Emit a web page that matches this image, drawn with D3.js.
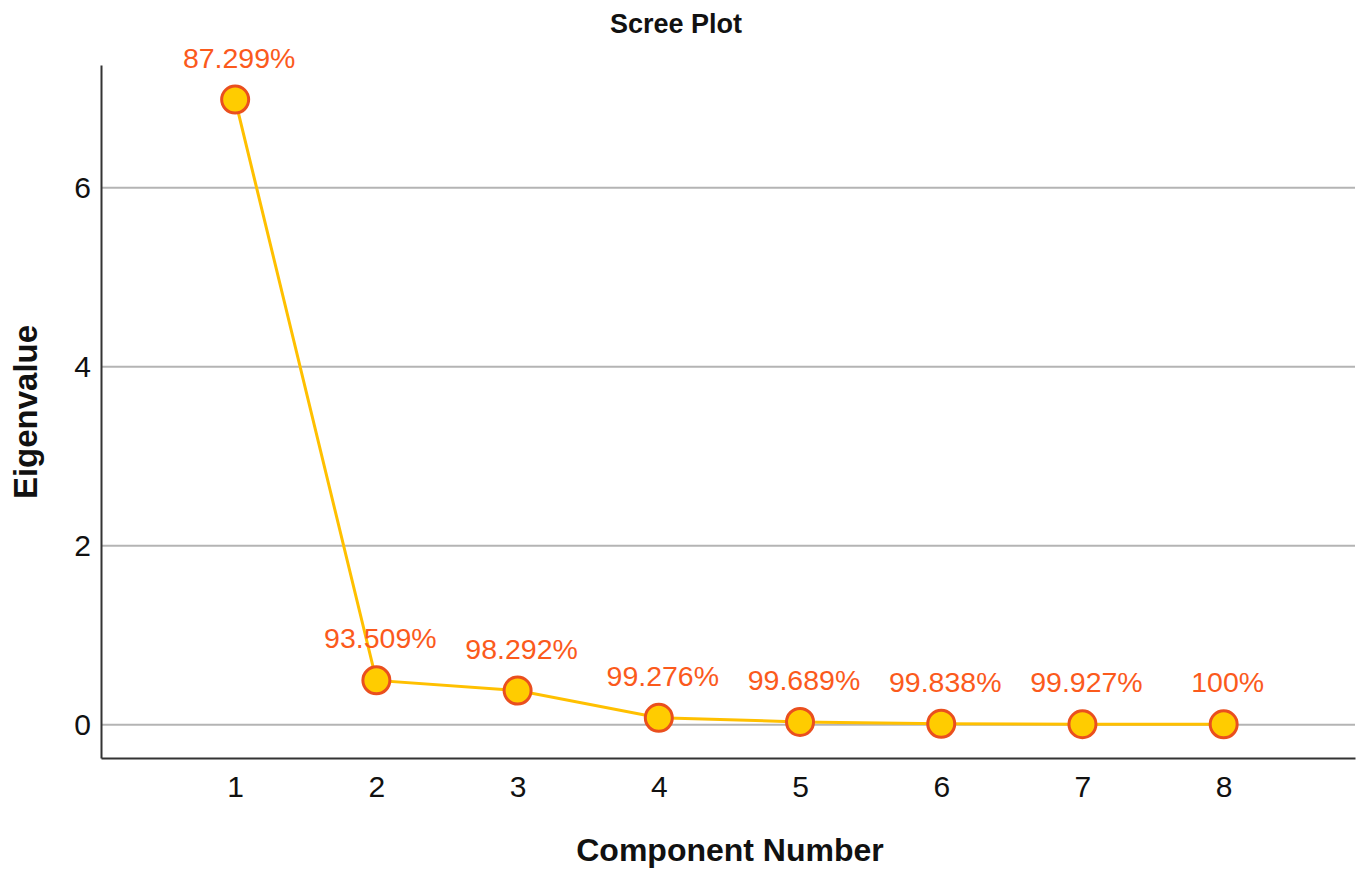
<!DOCTYPE html>
<html>
<head>
<meta charset="utf-8">
<script src="https://cdn.jsdelivr.net/npm/d3@7"></script>
<style>
  html, body { margin: 0; padding: 0; background: #fff; }
  svg { display: block; font-family: "Liberation Sans", Arial, sans-serif; }
</style>
</head>
<body>
<svg id="chart" width="1363" height="869"></svg>
<script>
// ---- data ----
const components = [1, 2, 3, 4, 5, 6, 7, 8];
const eigenvalues = [6.984, 0.497, 0.383, 0.079, 0.033, 0.012, 0.007, 0.006];
const cumulativeLabels = ["87.299%", "93.509%", "98.292%", "99.276%", "99.689%", "99.838%", "99.927%", "100%"];
const yTicks = [0, 2, 4, 6];
const xTicks = [1, 2, 3, 4, 5, 6, 7, 8];

const svg = d3.select("#chart");
const plotLeft = 101, plotRight = 1355, plotTop = 65, plotBottom = 758;

const x = d3.scaleLinear().domain([0.05, 8.93]).range([plotLeft, plotRight]);
const y = d3.scaleLinear().domain([-0.37, 7.37]).range([plotBottom, plotTop]);

// gridlines
svg.append("g").selectAll("line").data(yTicks).join("line")
  .attr("x1", plotLeft).attr("x2", plotRight)
  .attr("y1", d => y(d)).attr("y2", d => y(d))
  .attr("stroke", "#b4b4b4").attr("stroke-width", 2);

// y axis
const yAxis = svg.append("g").attr("transform", `translate(${plotLeft},0)`)
  .call(d3.axisLeft(y).tickValues(yTicks).tickSize(0).tickPadding(10).tickFormat(d3.format("d")));
yAxis.select(".domain").attr("stroke", "#333").attr("stroke-width", 2);
yAxis.selectAll("text").attr("font-size", 30).attr("fill", "#111")
  .attr("font-family", "'Liberation Sans', Arial, sans-serif");

// x axis
const xAxis = svg.append("g").attr("transform", `translate(0,${plotBottom})`)
  .call(d3.axisBottom(x).tickValues(xTicks).tickSize(0).tickPadding(18).tickFormat(d3.format("d")));
xAxis.select(".domain").attr("stroke", "#333").attr("stroke-width", 2);
xAxis.selectAll("text").attr("font-size", 30).attr("fill", "#111")
  .attr("font-family", "'Liberation Sans', Arial, sans-serif");

const pts = components.map((c, i) => ({ c, v: eigenvalues[i], label: cumulativeLabels[i] }));

// line
svg.append("path").datum(pts)
  .attr("fill", "none").attr("stroke", "#ffc000").attr("stroke-width", 3)
  .attr("d", d3.line().x(d => x(d.c)).y(d => y(d.v)));

// points
svg.append("g").selectAll("circle").data(pts).join("circle")
  .attr("cx", d => x(d.c)).attr("cy", d => y(d.v)).attr("r", 13.5)
  .attr("fill", "#ffcc00").attr("stroke", "#ea4f1e").attr("stroke-width", 3);

// labels
svg.append("g").selectAll("text").data(pts).join("text")
  .attr("x", d => x(d.c) + 4).attr("y", d => y(d.v) - 32)
  .attr("text-anchor", "middle").attr("font-size", 28.5).attr("fill", "#fb5a1c")
  .text(d => d.label);

// title
svg.append("text").attr("x", 676).attr("y", 33).attr("text-anchor", "middle")
  .attr("font-size", 27).attr("font-weight", "bold").attr("fill", "#111").text("Scree Plot");

// axis titles
svg.append("text").attr("x", 730).attr("y", 861).attr("text-anchor", "middle")
  .attr("font-size", 32).attr("font-weight", "bold").attr("fill", "#111").text("Component Number");
svg.append("text").attr("transform", "translate(37,412) rotate(-90)").attr("text-anchor", "middle")
  .attr("font-size", 33).attr("font-weight", "bold").attr("fill", "#111").text("Eigenvalue");
</script>
</body>
</html>
